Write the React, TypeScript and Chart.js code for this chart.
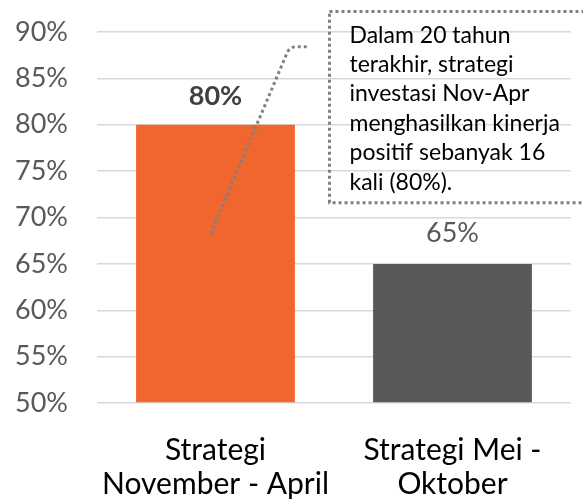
import React, { useEffect, useRef } from 'react';
import { Chart, registerables } from 'chart.js';

Chart.register(...registerables);

const categories: string[][] = [
  ['Strategi', 'November - April'],
  ['Strategi Mei -', 'Oktober'],
];
const values: number[] = [80, 65];
const barColors: string[] = ['#F1652F', '#595959'];
const valueLabels: string[] = ['80%', '65%'];
const valueLabelBold: boolean[] = [true, false];
const valueLabelColors: string[] = ['#404040', '#595959'];
const yMin = 50;
const yMax = 90;
const yStep = 5;
const calloutLines: string[] = [
  'Dalam 20 tahun',
  'terakhir, strategi',
  'investasi Nov-Apr',
  'menghasilkan kinerja',
  'positif sebanyak 16',
  'kali (80%).',
];

const FONT = 'Lato, "Open Sans", sans-serif';

const annotationPlugin = {
  id: 'annotations',
  afterDatasetsDraw(chart: any) {
    const ctx = chart.ctx;
    const meta = chart.getDatasetMeta(0);
    ctx.save();
    ctx.textAlign = 'center';
    ctx.textBaseline = 'middle';
    meta.data.forEach((el: any, i: number) => {
      ctx.font = `${valueLabelBold[i] ? 'bold ' : ''}27px ${FONT}`;
      ctx.fillStyle = valueLabelColors[i];
      ctx.fillText(valueLabels[i], el.x, el.y - (valueLabelBold[i] ? 28 : 31));
    });
    ctx.restore();
  },
  afterDraw(chart: any) {
    const ctx = chart.ctx;
    const xs = chart.scales.x;
    const ys = chart.scales.y;
    const cx = xs.getPixelForValue(0);
    ctx.save();
    // leader line
    ctx.strokeStyle = '#808080';
    ctx.lineWidth = 3;
    ctx.setLineDash([3, 3]);
    const x0 = cx - 5;
    const y0 = ys.getPixelForValue(68.2);
    const yc = ys.getPixelForValue(88.4);
    ctx.beginPath();
    ctx.moveTo(x0, y0);
    ctx.lineTo(cx + 72, yc + 5);
    ctx.quadraticCurveTo(cx + 75, yc, cx + 80, yc);
    ctx.lineTo(cx + 94, yc);
    ctx.stroke();
    // callout box
    const bx = cx + 114;
    const by = ys.getPixelForValue(92.2);
    const bb = ys.getPixelForValue(71.6);
    ctx.beginPath();
    ctx.rect(bx, by, chart.width + 20 - bx, bb - by);
    ctx.stroke();
    ctx.setLineDash([]);
    ctx.fillStyle = '#000000';
    ctx.font = `23px ${FONT}`;
    ctx.textAlign = 'left';
    ctx.textBaseline = 'alphabetic';
    calloutLines.forEach((line, i) => {
      ctx.fillText(line, bx + 20, by + 31 + i * 29.4);
    });
    ctx.restore();
  },
};

export default function App() {
  const ref = useRef<HTMLCanvasElement | null>(null);
  useEffect(() => {
    document.body.style.margin = '0';
    if (!ref.current) return;
    const chart = new Chart(ref.current, {
      type: 'bar',
      data: {
        labels: categories,
        datasets: [
          {
            data: values,
            backgroundColor: barColors,
            borderWidth: 0,
            base: yMin,
            categoryPercentage: 1,
            barPercentage: 0.67,
          } as any,
        ],
      },
      options: {
        responsive: false,
        animation: false,
        layout: { padding: { top: 32, right: 12, bottom: 0, left: 0 } },
        plugins: {
          legend: { display: false },
          tooltip: { enabled: false },
          title: { display: false },
        },
        scales: {
          x: {
            grid: { display: false, drawTicks: false },
            border: { display: false },
            ticks: {
              color: '#000000',
              padding: 30,
              maxRotation: 0,
              autoSkip: false,
              font: { family: FONT, size: 30, lineHeight: 1.13 },
            },
            afterFit(scale: any) {
              scale.height = 96;
              scale.paddingLeft = 0;
              scale.paddingRight = 0;
            },
          },
          y: {
            min: yMin,
            max: yMax,
            grid: { color: '#D9D9D9', lineWidth: 1.5, drawTicks: false },
            border: { display: false },
            ticks: {
              stepSize: yStep,
              color: '#595959',
              padding: 29,
              font: { family: FONT, size: 27 },
              callback: (v: any) => `${v}%`,
            },
            afterFit(scale: any) {
              scale.width = 97;
              scale.paddingTop = 0;
              scale.paddingBottom = 0;
            },
          },
        },
      },
      plugins: [annotationPlugin],
    });
    return () => chart.destroy();
  }, []);
  return (
    <div style={{ width: 583, height: 499 }}>
      <canvas ref={ref} width={583} height={499} />
    </div>
  );
}
